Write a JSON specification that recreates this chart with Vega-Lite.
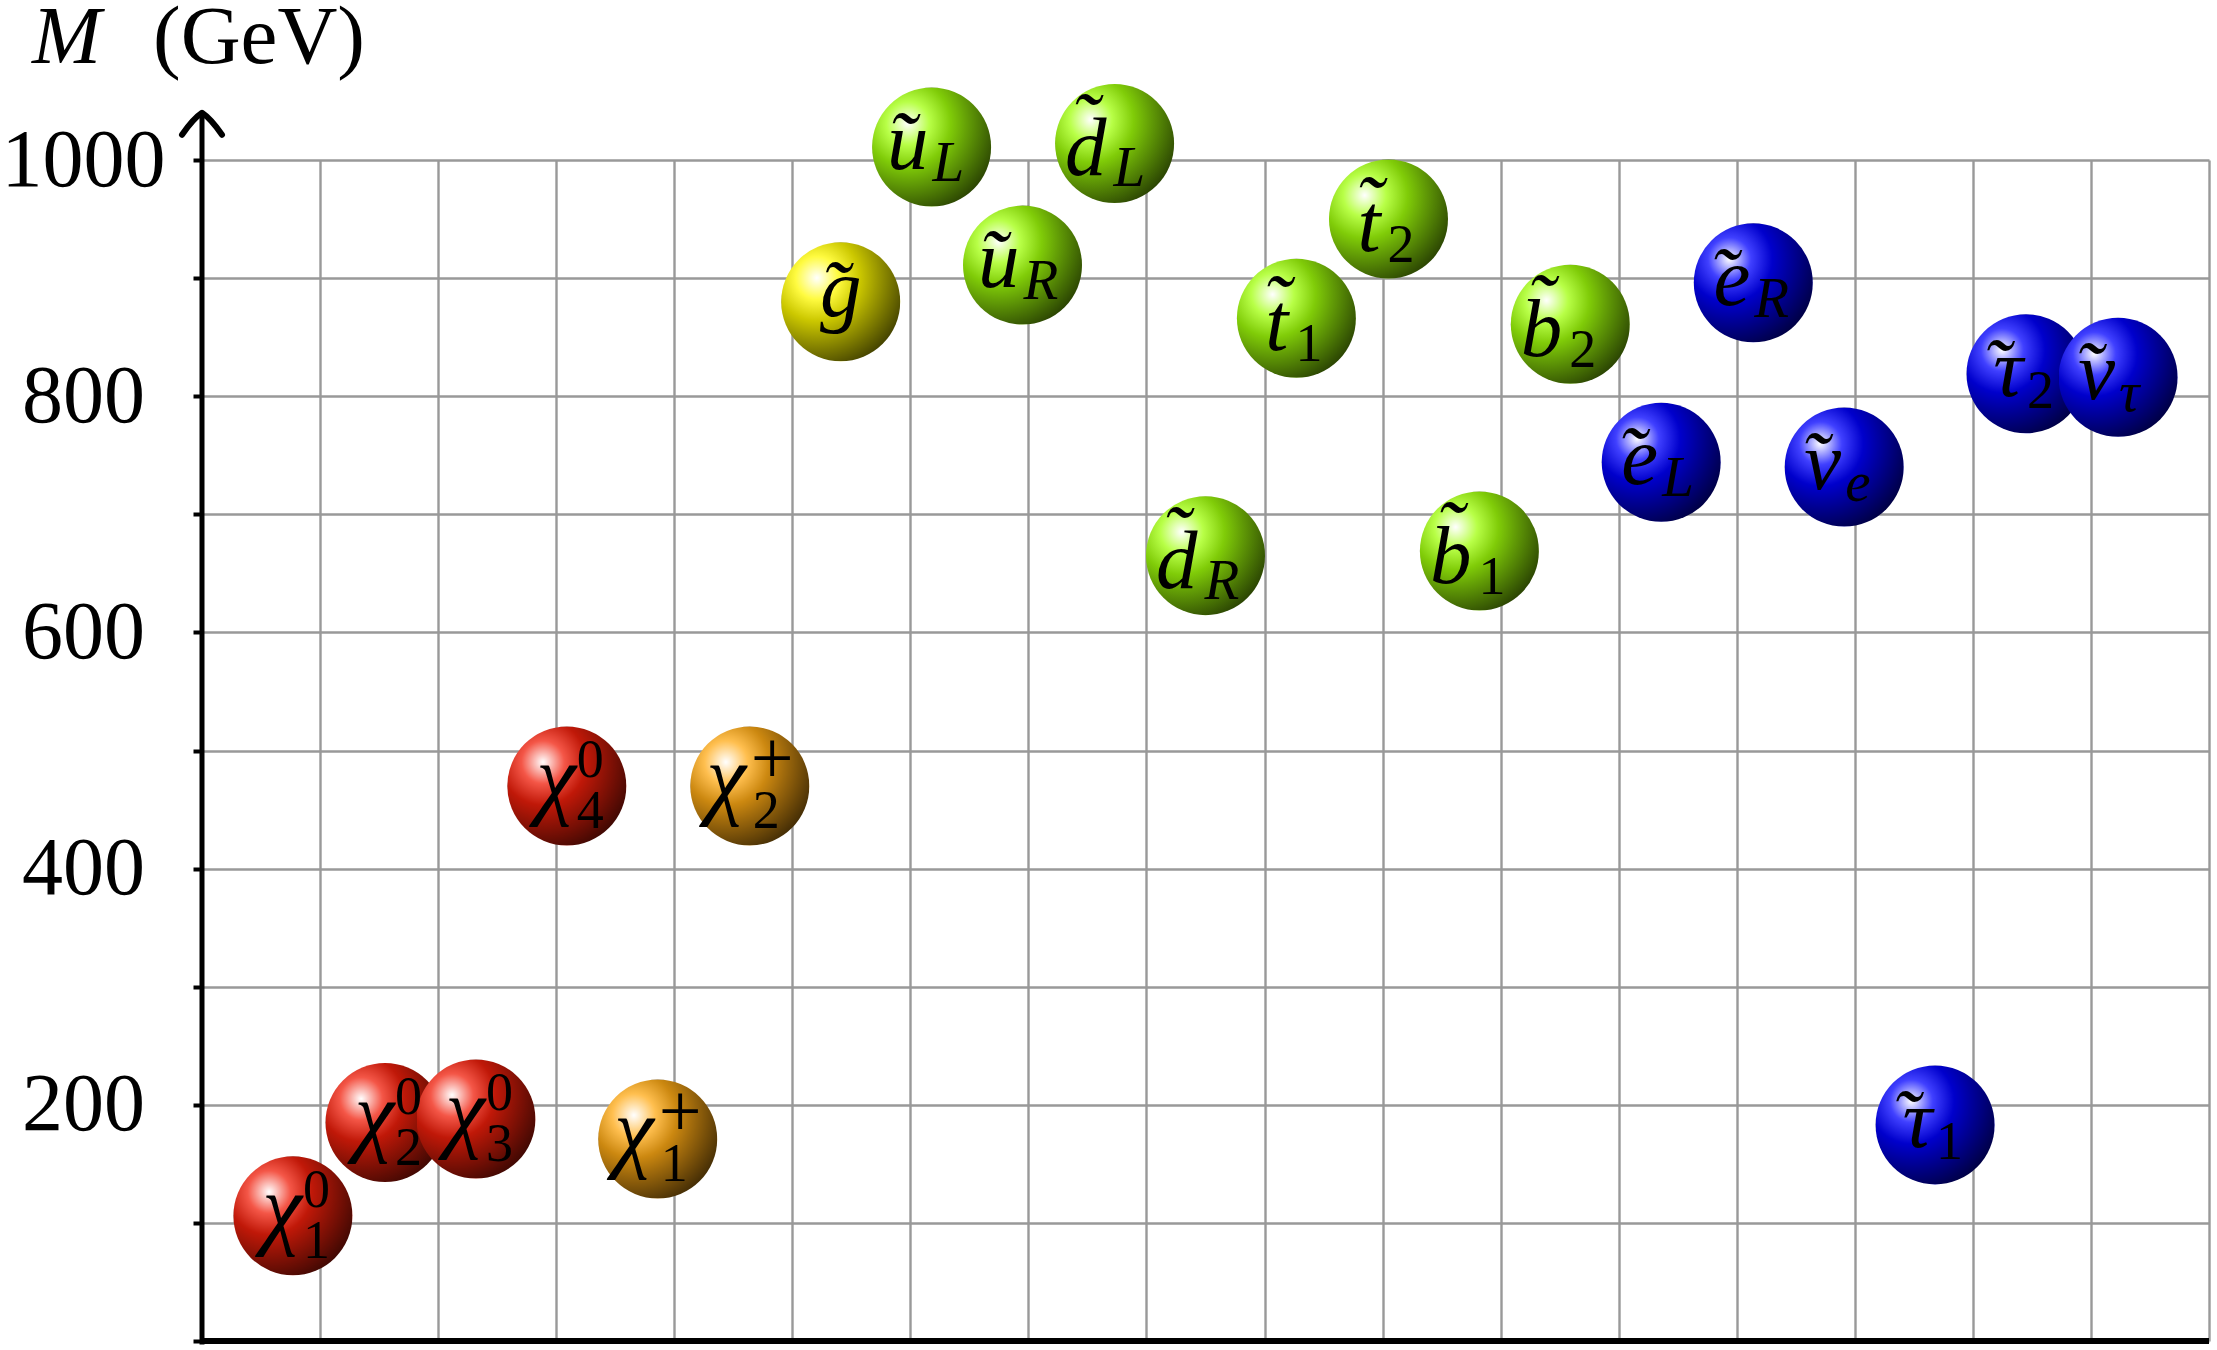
{
  "$schema": "https://vega.github.io/schema/vega-lite/v6.json",
  "width": 2007,
  "height": 1181,
  "autosize": {"type": "none"},
  "padding": {"left": 202, "top": 160, "right": 8, "bottom": 9},
  "background": "white",
  "config": {"view": {"stroke": null}, "font": "Liberation Serif"},
  "layer": [
    {
      "data": {"values": [
        {"name": "χ", "accent": "", "sub": "1", "sup": "0", "group": "red", "pos": 0.77, "mass": 106},
        {"name": "χ", "accent": "", "sub": "2", "sup": "0", "group": "red", "pos": 1.55, "mass": 185},
        {"name": "χ", "accent": "", "sub": "3", "sup": "0", "group": "red", "pos": 2.32, "mass": 188},
        {"name": "χ", "accent": "", "sub": "4", "sup": "0", "group": "red", "pos": 3.09, "mass": 470},
        {"name": "χ", "accent": "", "sub": "1", "sup": "+", "group": "orange", "pos": 3.86, "mass": 171},
        {"name": "χ", "accent": "", "sub": "2", "sup": "+", "group": "orange", "pos": 4.64, "mass": 470},
        {"name": "g", "accent": "˜", "sub": "", "sup": "", "group": "yellow", "pos": 5.41, "mass": 880},
        {"name": "u", "accent": "˜", "sub": "L", "sup": "", "group": "green", "pos": 6.18, "mass": 1011},
        {"name": "u", "accent": "˜", "sub": "R", "sup": "", "group": "green", "pos": 6.95, "mass": 911},
        {"name": "d", "accent": "˜", "sub": "L", "sup": "", "group": "green", "pos": 7.73, "mass": 1014},
        {"name": "d", "accent": "˜", "sub": "R", "sup": "", "group": "green", "pos": 8.50, "mass": 665},
        {"name": "t", "accent": "˜", "sub": "1", "sup": "", "group": "green", "pos": 9.27, "mass": 866},
        {"name": "t", "accent": "˜", "sub": "2", "sup": "", "group": "green", "pos": 10.05, "mass": 950},
        {"name": "b", "accent": "˜", "sub": "1", "sup": "", "group": "green", "pos": 10.82, "mass": 669},
        {"name": "b", "accent": "˜", "sub": "2", "sup": "", "group": "green", "pos": 11.59, "mass": 861},
        {"name": "e", "accent": "˜", "sub": "L", "sup": "", "group": "blue", "pos": 12.36, "mass": 744},
        {"name": "e", "accent": "˜", "sub": "R", "sup": "", "group": "blue", "pos": 13.14, "mass": 896},
        {"name": "ν", "accent": "˜", "sub": "e", "sup": "", "group": "blue", "pos": 13.91, "mass": 740},
        {"name": "τ", "accent": "˜", "sub": "1", "sup": "", "group": "blue", "pos": 14.68, "mass": 183},
        {"name": "τ", "accent": "˜", "sub": "2", "sup": "", "group": "blue", "pos": 15.45, "mass": 819},
        {"name": "ν", "accent": "˜", "sub": "τ", "sup": "", "group": "blue", "pos": 16.23, "mass": 816}
      ]},
      "encoding": {
        "x": {"field": "pos", "type": "quantitative",
          "scale": {"domain": [0, 17], "nice": false, "zero": false},
          "axis": {"title": null, "values": [1,2,3,4,5,6,7,8,9,10,11,12,13,14,15,16,17], "domain": false, "ticks": false, "labels": false, "grid": true, "gridColor": "#999999", "gridWidth": 2.4, "gridOpacity": 1}},
        "y": {"field": "mass", "type": "quantitative",
          "scale": {"domain": [0, 1000], "nice": false, "zero": false},
          "axis": {"title": null, "values": [0,100,200,300,400,500,600,700,800,900,1000], "format": "d",
            "domain": false, "ticks": true, "tickSize": 9, "tickWidth": 4, "tickColor": "black",
            "grid": true, "gridColor": "#999999", "gridWidth": 2.4, "gridOpacity": 1,
            "labelExpr": "datum.value % 200 === 0 && datum.value > 0 ? datum.label : ''",
            "labelFont": "Liberation Serif", "labelFontSize": 82, "labelColor": "black",
            "labelAlign": "center", "labelBaseline": "middle", "labelPadding": 110,
            "labelFlush": false, "labelOverlap": false, "labelBound": false}}
      },
      "layer": [
        {"transform": [{"filter": "datum.group === 'red'"}],
         "mark": {"type": "point", "shape": "circle", "filled": true, "size": 14161, "opacity": 1, "strokeWidth": 0,
           "fill": {"gradient": "radial", "x1": 0.3, "y1": 0.3, "r1": 0, "x2": 0.3, "y2": 0.3, "r2": 1,
             "stops": [{"offset": 0, "color": "#ffffff"}, {"offset": 0.18, "color": "#f45647"}, {"offset": 0.36, "color": "#c01808"}, {"offset": 0.5, "color": "#951306"}, {"offset": 1, "color": "#000000"}]}}},
        {"transform": [{"filter": "datum.group === 'orange'"}],
         "mark": {"type": "point", "shape": "circle", "filled": true, "size": 14161, "opacity": 1, "strokeWidth": 0,
           "fill": {"gradient": "radial", "x1": 0.3, "y1": 0.3, "r1": 0, "x2": 0.3, "y2": 0.3, "r2": 1,
             "stops": [{"offset": 0, "color": "#ffffff"}, {"offset": 0.18, "color": "#ffbf4f"}, {"offset": 0.36, "color": "#cc8810"}, {"offset": 0.5, "color": "#9e690c"}, {"offset": 1, "color": "#000000"}]}}},
        {"transform": [{"filter": "datum.group === 'yellow'"}],
         "mark": {"type": "point", "shape": "circle", "filled": true, "size": 14161, "opacity": 1, "strokeWidth": 0,
           "fill": {"gradient": "radial", "x1": 0.3, "y1": 0.3, "r1": 0, "x2": 0.3, "y2": 0.3, "r2": 1,
             "stops": [{"offset": 0, "color": "#ffffff"}, {"offset": 0.18, "color": "#fffb40"}, {"offset": 0.36, "color": "#ccc800"}, {"offset": 0.5, "color": "#9e9b00"}, {"offset": 1, "color": "#000000"}]}}},
        {"transform": [{"filter": "datum.group === 'green'"}],
         "mark": {"type": "point", "shape": "circle", "filled": true, "size": 14161, "opacity": 1, "strokeWidth": 0,
           "fill": {"gradient": "radial", "x1": 0.3, "y1": 0.3, "r1": 0, "x2": 0.3, "y2": 0.3, "r2": 1,
             "stops": [{"offset": 0, "color": "#ffffff"}, {"offset": 0.18, "color": "#b8ff47"}, {"offset": 0.36, "color": "#80cc08"}, {"offset": 0.5, "color": "#639e06"}, {"offset": 1, "color": "#000000"}]}}},
        {"transform": [{"filter": "datum.group === 'blue'"}],
         "mark": {"type": "point", "shape": "circle", "filled": true, "size": 14161, "opacity": 1, "strokeWidth": 0,
           "fill": {"gradient": "radial", "x1": 0.3, "y1": 0.3, "r1": 0, "x2": 0.3, "y2": 0.3, "r2": 1,
             "stops": [{"offset": 0, "color": "#ffffff"}, {"offset": 0.18, "color": "#4040ff"}, {"offset": 0.36, "color": "#0000cc"}, {"offset": 0.5, "color": "#00009e"}, {"offset": 1, "color": "#000000"}]}}},
        {"transform": [{"filter": "datum.sup === '0'"}],
         "mark": {"type": "text", "font": "Liberation Serif", "fontStyle": "italic", "fontSize": 90, "align": "right", "baseline": "alphabetic", "dx": 9, "dy": 22, "color": "black"},
         "encoding": {"text": {"field": "name"}}},
        {"transform": [{"filter": "datum.sup === '0'"}],
         "mark": {"type": "text", "font": "Liberation Serif", "fontSize": 54, "align": "left", "baseline": "alphabetic", "dx": 10, "dy": 42, "color": "black"},
         "encoding": {"text": {"field": "sub"}}},
        {"transform": [{"filter": "datum.sup === '0'"}],
         "mark": {"type": "text", "font": "Liberation Serif", "fontSize": 54, "align": "left", "baseline": "alphabetic", "dx": 10, "dy": -9, "color": "black"},
         "encoding": {"text": {"field": "sup"}}},
        {"transform": [{"filter": "datum.sup === '+'"}],
         "mark": {"type": "text", "font": "Liberation Serif", "fontStyle": "italic", "fontSize": 90, "align": "right", "baseline": "alphabetic", "dx": -4, "dy": 22, "color": "black"},
         "encoding": {"text": {"field": "name"}}},
        {"transform": [{"filter": "datum.sup === '+'"}],
         "mark": {"type": "text", "font": "Liberation Serif", "fontSize": 54, "align": "left", "baseline": "alphabetic", "dx": 3, "dy": 42, "color": "black"},
         "encoding": {"text": {"field": "sub"}}},
        {"transform": [{"filter": "datum.sup === '+'"}],
         "mark": {"type": "text", "font": "Liberation Serif", "fontSize": 76, "align": "left", "baseline": "alphabetic", "dx": 1, "dy": -3, "color": "black"},
         "encoding": {"text": {"field": "sup"}}},
        {"transform": [{"filter": "datum.sub === ''"}],
         "mark": {"type": "text", "font": "Liberation Serif", "fontStyle": "italic", "fontSize": 83, "align": "center", "baseline": "alphabetic", "dx": 0, "dy": 14, "color": "black"},
         "encoding": {"text": {"field": "name"}}},
        {"transform": [{"filter": "datum.sub === ''"}],
         "mark": {"type": "text", "font": "Liberation Serif", "fontStyle": "italic", "fontSize": 83, "align": "center", "baseline": "alphabetic", "dx": -6, "dy": 16, "color": "black"},
         "encoding": {"text": {"field": "accent"}}},
        {"transform": [{"filter": "datum.sup === '' && datum.sub !== '' && !test(/^[dbt]$/, datum.name)"}],
         "mark": {"type": "text", "font": "Liberation Serif", "fontStyle": "italic", "fontSize": 83, "align": "right", "baseline": "alphabetic", "dx": -3, "dy": 22, "color": "black"},
         "encoding": {"text": {"field": "name"}}},
        {"transform": [{"filter": "datum.sup === '' && datum.sub !== '' && !test(/^[dbt]$/, datum.name)"}],
         "mark": {"type": "text", "font": "Liberation Serif", "fontStyle": "italic", "fontSize": 83, "align": "center", "baseline": "alphabetic", "dx": -30, "dy": 22, "color": "black"},
         "encoding": {"text": {"field": "accent"}}},
        {"transform": [{"filter": "datum.sup === '' && datum.sub !== '' && !test(/^[dbt]$/, datum.name) && test(/^[0-9]$/, datum.sub)"}],
         "mark": {"type": "text", "font": "Liberation Serif", "fontSize": 54, "align": "left", "baseline": "alphabetic", "dx": 1, "dy": 34, "color": "black"},
         "encoding": {"text": {"field": "sub"}}},
        {"transform": [{"filter": "datum.sup === '' && datum.sub !== '' && !test(/^[dbt]$/, datum.name) && !test(/^[0-9]$/, datum.sub)"}],
         "mark": {"type": "text", "font": "Liberation Serif", "fontStyle": "italic", "fontSize": 57, "align": "left", "baseline": "alphabetic", "dx": 1, "dy": 34, "color": "black"},
         "encoding": {"text": {"field": "sub"}}},
        {"transform": [{"filter": "test(/^[dbt]$/, datum.name)"}],
         "mark": {"type": "text", "font": "Liberation Serif", "fontStyle": "italic", "fontSize": 83, "align": "right", "baseline": "alphabetic", "dx": -8, "dy": 32, "color": "black"},
         "encoding": {"text": {"field": "name"}}},
        {"transform": [{"filter": "test(/^[db]$/, datum.name)"}],
         "mark": {"type": "text", "font": "Liberation Serif", "fontStyle": "italic", "fontSize": 83, "align": "center", "baseline": "alphabetic", "dx": -30, "dy": 7, "color": "black"},
         "encoding": {"text": {"field": "accent"}}},
        {"transform": [{"filter": "datum.name === 't'"}],
         "mark": {"type": "text", "font": "Liberation Serif", "fontStyle": "italic", "fontSize": 83, "align": "center", "baseline": "alphabetic", "dx": -20, "dy": 14, "color": "black"},
         "encoding": {"text": {"field": "accent"}}},
        {"transform": [{"filter": "test(/^[dbt]$/, datum.name) && test(/^[0-9]$/, datum.sub)"}],
         "mark": {"type": "text", "font": "Liberation Serif", "fontSize": 54, "align": "left", "baseline": "alphabetic", "dx": -1, "dy": 43, "color": "black"},
         "encoding": {"text": {"field": "sub"}}},
        {"transform": [{"filter": "test(/^[dbt]$/, datum.name) && !test(/^[0-9]$/, datum.sub)"}],
         "mark": {"type": "text", "font": "Liberation Serif", "fontStyle": "italic", "fontSize": 57, "align": "left", "baseline": "alphabetic", "dx": -1, "dy": 43, "color": "black"},
         "encoding": {"text": {"field": "sub"}}}
      ]
    },
    {
      "data": {"values": [{"k": 1}]},
      "layer": [
        {"mark": {"type": "rule", "color": "black", "strokeWidth": 6},
         "encoding": {"x": {"datum": 0}, "x2": {"datum": 17}, "y": {"datum": 0}}},
        {"mark": {"type": "rule", "color": "black", "strokeWidth": 5},
         "encoding": {"x": {"datum": 0}, "y": {"datum": -3}, "y2": {"datum": 1038}}},
        {"mark": {"type": "point", "shape": "M -1 1.1 Q -0.45 0.3 0 0 Q 0.45 0.3 1 1.1", "filled": false, "size": 1600, "stroke": "black", "strokeWidth": 6, "opacity": 1, "strokeCap": "round", "strokeJoin": "round"},
         "encoding": {"x": {"datum": 0}, "y": {"datum": 1040}}},
        {"mark": {"type": "text", "text": "M", "font": "Liberation Serif", "fontStyle": "italic", "fontSize": 83, "align": "left", "baseline": "alphabetic", "color": "black"},
         "encoding": {"x": {"datum": -1.44}, "y": {"datum": 1082}}},
        {"mark": {"type": "text", "text": "(GeV)", "font": "Liberation Serif", "fontSize": 83, "align": "left", "baseline": "alphabetic", "color": "black"},
         "encoding": {"x": {"datum": -0.415}, "y": {"datum": 1082}}}
      ]
    }
  ]
}
